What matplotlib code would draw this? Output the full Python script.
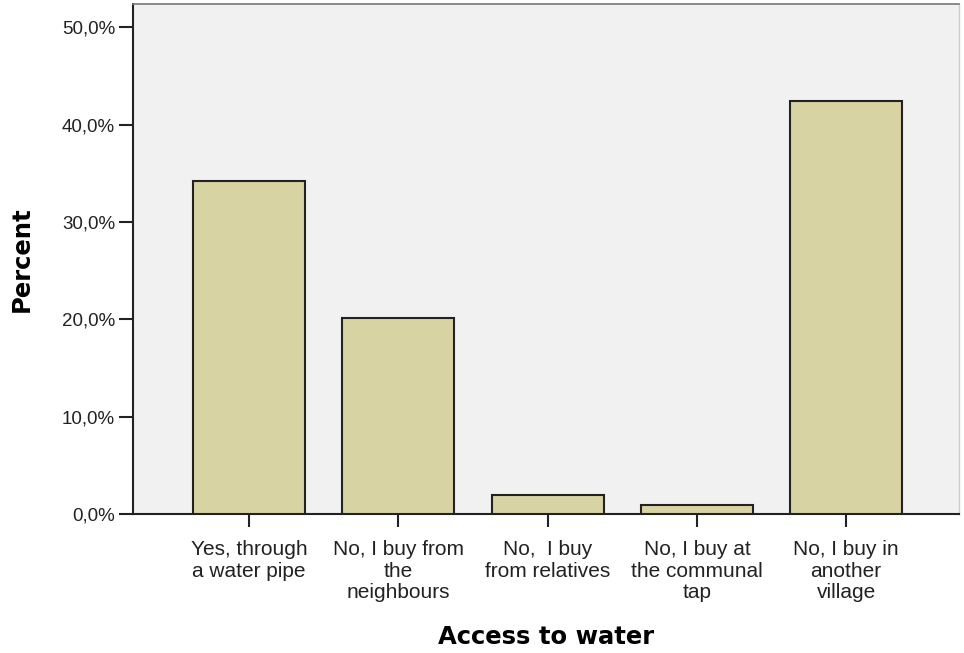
import numpy as np
import matplotlib
matplotlib.use("Agg")
import matplotlib.pyplot as plt
from matplotlib.ticker import FuncFormatter

categories = [
    "Yes, through\na water pipe",
    "No, I buy from\nthe\nneighbours",
    "No,  I buy\nfrom relatives",
    "No, I buy at\nthe communal\ntap",
    "No, I buy in\nanother\nvillage",
]
percent = [34.2, 20.1, 1.9, 0.9, 42.4]
y_ticks = [0, 10, 20, 30, 40, 50]

plt.rcParams["font.family"] = ["Liberation Sans", "DejaVu Sans"]

fig = plt.figure(figsize=(9.64, 6.53), dpi=100)
ax = fig.add_axes([0.138, 0.213, 0.857, 0.781])
ax.set_facecolor("#f1f1f1")

x = np.arange(len(categories))
ax.bar(x, percent, width=0.75, color="#d8d3a3", edgecolor="#222222", linewidth=1.5, zorder=3)

ax.set_xlim(-0.777, 4.757)
ax.set_ylim(0, 52.4)
ax.set_yticks(y_ticks)
ax.yaxis.set_major_formatter(FuncFormatter(lambda v, p: f"{v:.1f}%".replace(".", ",")))
ax.set_xticks(x)
ax.set_xticklabels(categories, linespacing=1.15)

ax.tick_params(axis="y", length=10, width=1.5, color="#222222", labelsize=13.5, labelcolor="#222222", pad=3)
ax.tick_params(axis="x", length=9, width=1.5, color="#222222", labelsize=15, labelcolor="#222222", pad=10)

for side in ["left", "bottom"]:
    ax.spines[side].set_color("#222222")
    ax.spines[side].set_linewidth(1.5)
ax.spines["top"].set_color("#777777")
ax.spines["top"].set_linewidth(1.2)
ax.spines["right"].set_color("#cccccc")
ax.spines["right"].set_linewidth(1.0)

ax.set_ylabel("Percent", family="DejaVu Sans", fontweight="bold", fontsize=17.5, labelpad=20)
ax.set_xlabel("Access to water", family="DejaVu Sans", fontweight="bold", fontsize=17.5, labelpad=17)

fig.savefig("out.png", dpi=100, facecolor="white")
